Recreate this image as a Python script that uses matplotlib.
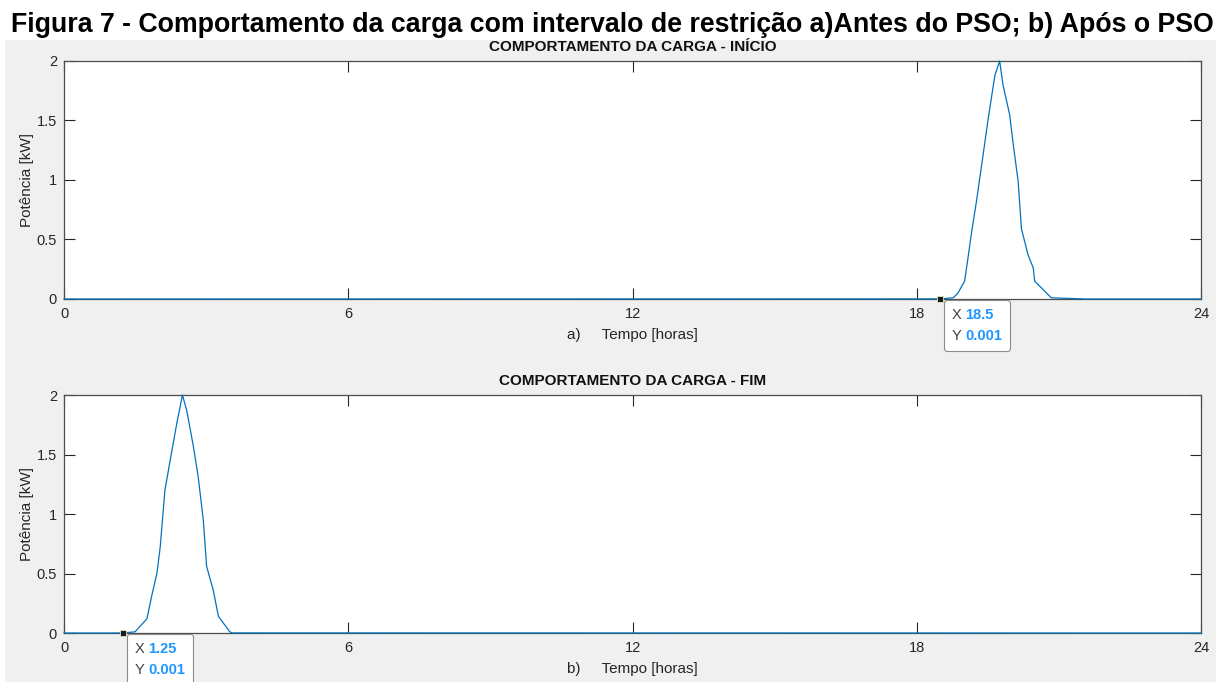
import matplotlib
matplotlib.use("Agg")
import matplotlib.pyplot as plt
from matplotlib.patches import Rectangle
from matplotlib.offsetbox import TextArea, HPacker, VPacker, AnnotationBbox

plt.rcParams['font.family'] = ['Liberation Sans', 'DejaVu Sans']

# load profile before optimisation (hours, kW)
horas_inicio = [0, 18.0, 18.5, 18.77, 18.87, 19.01, 19.08, 19.15, 19.26, 19.4, 19.51,
                19.65, 19.75, 19.82, 19.96, 20.04, 20.14, 20.21, 20.35, 20.46, 20.49,
                20.74, 20.84, 21.5, 21.52, 24]
pot_inicio = [0, 0.001, 0.001, 0.01, 0.05, 0.15, 0.34, 0.54, 0.82, 1.21, 1.52,
              1.88, 2.0, 1.8, 1.55, 1.29, 0.99, 0.59, 0.37, 0.26, 0.15,
              0.05, 0.01, 0.001, 0, 0]

# load profile after PSO
horas_fim = [0, 1.0, 1.25, 1.5, 1.75, 1.85, 1.96, 2.03, 2.13, 2.24, 2.38, 2.5,
             2.59, 2.73, 2.83, 2.94, 3.01, 3.15, 3.26, 3.5, 3.55, 24]
pot_fim = [0, 0, 0.001, 0.01, 0.12, 0.31, 0.5, 0.72, 1.2, 1.45, 1.76, 2.0,
           1.87, 1.57, 1.32, 0.95, 0.56, 0.36, 0.14, 0.01, 0.001, 0]

xticks = [0, 6, 12, 18, 24]
yticks = [0, 0.5, 1, 1.5, 2]

dica_inicio = (18.5, 0.001)
dica_fim = (1.25, 0.001)

LINE = '#0072BD'
AXC = '#262626'


def data_tip(ax, x, y):
    ax.plot(x, y, 's', color='#1a1a1a', ms=4.5, mec='#e8e6c0', mew=0.6,
            clip_on=False, zorder=6)
    linhas = []
    for nome, val in (('X', '%g' % x), ('Y', '%g' % y)):
        linhas.append(HPacker(children=[
            TextArea(nome, textprops=dict(color='#404040', fontsize=10.5)),
            TextArea(val, textprops=dict(color='#1E96FF', fontsize=10.5, fontweight='bold'))],
            align='baseline', pad=0, sep=3))
    caixa = VPacker(children=linhas, align='left', pad=1, sep=5)
    ab = AnnotationBbox(caixa, (x, y), xybox=(7, -5.6), xycoords='data',
                        boxcoords='offset points', box_alignment=(0, 1),
                        frameon=True, pad=0.45, annotation_clip=False,
                        bboxprops=dict(boxstyle='round,pad=0.45,rounding_size=0.2',
                                       fc='white', ec='#8c8c8c', lw=0.8))
    ab.set_zorder(7)
    ax.add_artist(ab)


def painel(ax, horas, pot, titulo, rotulo):
    ax.set_facecolor('white')
    ax.plot(horas, pot, color=LINE, lw=0.9, clip_on=False, zorder=3)
    ax.set_xlim(0, 24)
    ax.set_ylim(0, 2)
    ax.set_xticks(xticks)
    ax.set_yticks(yticks)
    ax.set_yticklabels(['0', '0.5', '1', '1.5', '2'])
    ax.tick_params(direction='in', length=8, width=0.8, colors=AXC, labelcolor=AXC,
                   labelsize=10.5, top=True, right=True, pad=5)
    ax.tick_params(axis='x', pad=6)
    for s in ax.spines.values():
        s.set_color('#4d4d4d')
        s.set_linewidth(0.9)
    ax.set_title(titulo, fontsize=11, fontweight='bold', color='#111111', pad=7)
    ax.set_ylabel('Potência [kW]', fontsize=11, color=AXC, labelpad=2)
    ax.set_xlabel(rotulo, fontsize=11, color=AXC, labelpad=5)


fig = plt.figure(figsize=(12.24, 6.82), dpi=100, facecolor='white')
fig.patches.append(Rectangle((0.0041, 0), 0.989, 0.9413, transform=fig.transFigure,
                             facecolor='#f0f0f0', edgecolor='none', zorder=-5))

fig.text(0.5, 0.963, 'Figura 7 - Comportamento da carga com intervalo de restrição '
         'a)Antes do PSO; b) Após o PSO', ha='center', va='center',
         fontsize=19.3, fontweight='bold', color='black')

ax1 = fig.add_axes([0.0523, 0.5616, 0.9289, 0.349])
painel(ax1, horas_inicio, pot_inicio, 'COMPORTAMENTO DA CARGA - INÍCIO',
       'a)     Tempo [horas]')
data_tip(ax1, *dica_inicio)

ax2 = fig.add_axes([0.0523, 0.0718, 0.9289, 0.349])
painel(ax2, horas_fim, pot_fim, 'COMPORTAMENTO DA CARGA - FIM',
       'b)     Tempo [horas]')
data_tip(ax2, *dica_fim)

fig.savefig('out.png', dpi=100, facecolor='white')
